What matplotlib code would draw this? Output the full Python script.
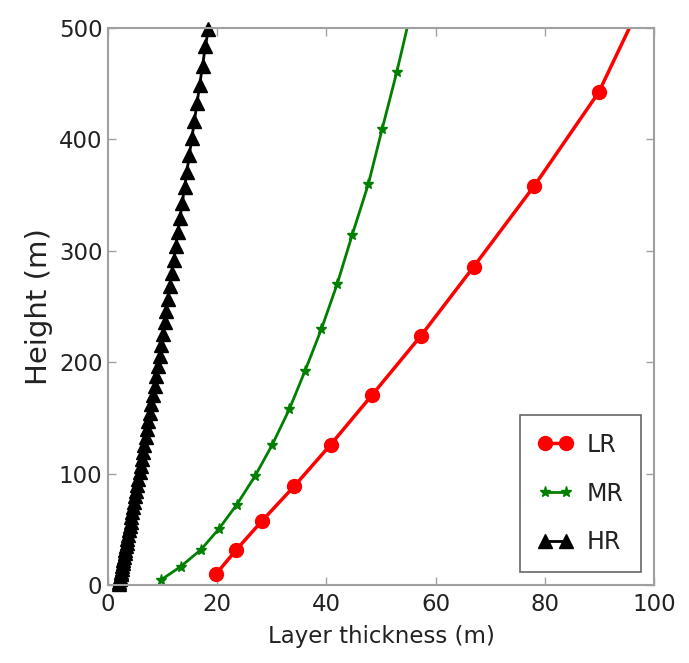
import matplotlib
matplotlib.use("Agg")
import matplotlib.pyplot as plt

# Low resolution (LR)
lr_thickness = [19.8, 23.5, 28.2, 34.1, 40.8, 48.4, 57.3, 67.0, 78.1, 89.9, 99.1]
lr_height = [9.9, 31.6, 57.5, 88.6, 126.1, 170.7, 223.6, 285.8, 358.4, 442.4, 537.0]

# Medium resolution (MR)
mr_thickness = [9.8, 13.3, 17.0, 20.3, 23.6, 26.9, 30.1, 33.2, 36.1, 39.1, 42.0,
                44.7, 47.7, 50.2, 52.9, 55.5]
mr_height = [4.9, 16.5, 31.6, 50.3, 72.2, 97.5, 126.0, 157.6, 192.3, 229.9, 270.4,
             313.8, 360.0, 408.9, 460.5, 514.7]

# High resolution (HR)
hr_thickness = [2.00, 2.08, 2.16, 2.25, 2.34, 2.43, 2.52, 2.62, 2.72, 2.83, 2.94,
                3.05, 3.17, 3.29, 3.42, 3.55, 3.69, 3.83, 3.98,
                4.13, 4.29, 4.45, 4.62, 4.80, 4.98,
                5.17, 5.37, 5.57, 5.78, 5.99,
                6.21, 6.43, 6.66, 6.90, 7.15, 7.41, 7.68, 7.96,
                8.25, 8.55, 8.86, 9.18, 9.47, 9.76, 10.06, 10.37, 10.69,
                11.02, 11.36, 11.71, 12.07, 12.44, 12.82, 13.21, 13.61,
                14.03, 14.46, 14.90, 15.36, 15.83, 16.31, 16.81, 17.32, 17.85, 18.40]
hr_height = [1.0, 3.0, 5.2, 7.4, 9.7, 12.1, 14.5, 17.1, 19.8, 22.5, 25.4,
             28.4, 31.5, 34.8, 38.1, 41.6, 45.2, 49.0, 52.9,
             56.9, 61.2, 65.5, 70.1, 74.8, 79.7,
             84.7, 90.0, 95.5, 101.1, 107.0,
             113.1, 119.5, 126.0, 132.8, 139.8, 147.1, 154.6, 162.4,
             170.6, 179.0, 187.7, 196.7, 206.0, 215.6, 225.5, 235.7, 246.3,
             257.1, 268.3, 279.9, 291.7, 304.0, 316.6, 329.6, 343.1,
             356.9, 371.1, 385.8, 400.9, 416.5, 432.6, 449.2, 466.2, 483.8, 499.0]

series_labels = ["LR", "MR", "HR"]
x_ticks = [0, 20, 40, 60, 80, 100]
y_ticks = [0, 100, 200, 300, 400, 500]

plt.rcParams['font.family'] = ['DejaVu Sans']

fig = plt.figure(figsize=(6.89, 6.63), dpi=100)
ax = fig.add_axes([0.1567, 0.1176, 0.7924, 0.8402])

ax.plot(lr_thickness, lr_height, color='#ff0000', lw=2.5, marker='o', ms=10,
        mec='#ff0000', mfc='#ff0000', label=series_labels[0])
ax.plot(mr_thickness, mr_height, color='#007f00', lw=2.0, marker='*', ms=8,
        mec='#007f00', mfc='#007f00', label=series_labels[1])
ax.plot(hr_thickness, hr_height, color='black', lw=2.0, marker='^', ms=9.5,
        mec='black', mfc='black', label=series_labels[2], clip_on=False)

ax.set_xlim(0, 100)
ax.set_ylim(0, 500)
ax.set_xticks(x_ticks)
ax.set_yticks(y_ticks)

for s in ax.spines.values():
    s.set_color('#a0a0a0')
    s.set_linewidth(1.5)

ax.tick_params(direction='in', which='both', top=True, right=True,
               length=6, width=1, color='#a0a0a0', labelsize=16.5,
               labelcolor='#222222')
ax.tick_params(axis='x', pad=6)
ax.tick_params(axis='y', pad=4)

ax.set_xlabel('Layer thickness (m)', fontsize=16.5, color='#222222', labelpad=6)
ax.set_ylabel('Height (m)', fontsize=21, color='#222222', labelpad=4)

leg = ax.legend(loc='lower right', numpoints=2, fontsize=17, fancybox=False,
                framealpha=1, edgecolor='#666666', handlelength=1.5,
                handletextpad=0.55, borderpad=0.75, labelspacing=1.05,
                borderaxespad=0.55)
leg.get_frame().set_linewidth(1.2)
for t in leg.get_texts():
    t.set_color('#222222')

fig.savefig('out.png', dpi=100)
